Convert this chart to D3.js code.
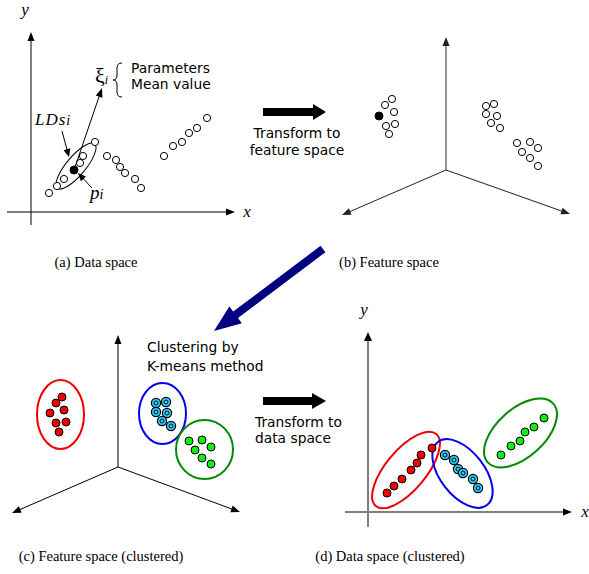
<!DOCTYPE html>
<html><head><meta charset="utf-8">
<script src="https://cdn.jsdelivr.net/npm/d3@7"></script>
<style>body{margin:0;background:#fff;}</style>
</head><body>
<script>
// ---------- data (units: offsets from each panel's origin, y up) ----------
const aCluster1 = [[18,19],[26,26],[33,33],[49,49],[52,56],[64,70]];
const aSelected = [[43,42]];
const aCluster2 = [[76,56],[85,52],[89,45],[94,39],[104,33],[110,24]];
const aCluster3 = [[133,56],[142,66],[151,70],[158,79],[166,84],[176,94]];

const bCluster1 = [[-54,71],[-61,65],[-52,58],[-51,46],[-60,44],[-57,36]];
const bSelected = [[-67,54]];
const bCluster2 = [[40,64],[48,66],[40,56],[51,54],[45,47],[54,42]];
const bCluster3 = [[71,27],[84,28],[92,22],[76,18],[84,12],[92,4]];

const cRed   = [[-56,70],[-62,64],[-54,57],[-68,54],[-52,45],[-62,44],[-59,35]];
const cBlue  = [[38,64],[48,65],[38,55],[49,54],[44,46],[53,41]];
const cGreen = [[71,26],[84,27],[93,20],[77,17],[84,9],[93,3]];

const dRed   = [[19,19],[26,26],[34,33],[43,42],[49,49],[53,57],[64,64]];
const dBlue  = [[77,57],[86,52],[90,43],[95,39],[105,33],[110,24]];
const dGreen = [[133,57],[143,66],[152,71],[157,80],[166,85],[176,94]];

const captions = ["(a) Data space","(b) Feature space","(c) Feature space (clustered)","(d) Data space (clustered)"];
const paramLabels = ["Parameters","Mean value"];
const stepLabels1 = ["Transform to","feature space"];
const stepLabels2 = ["Clustering by","K-means method"];
const stepLabels3 = ["Transform to","data space"];

// ---------- drawing ----------
const W = 589, H = 574;
const svg = d3.select("body").append("svg").attr("width",W).attr("height",H);
const SANS = "'DejaVu Sans', Verdana, sans-serif";
const SERIF = "'Liberation Serif', 'Times New Roman', serif";
const RED="#ee0000", BLUE="#0000ee", GREEN="#008a00", CYAN="#33ccff", LIME="#11ee11";

function mk(ox, oy){
  return {x: d3.scaleLinear().domain([0,100]).range([ox, ox+100]),
          y: d3.scaleLinear().domain([0,100]).range([oy, oy-100])};
}
function seg(x1,y1,x2,y2,stroke="#000",w=1){
  svg.append("line").attr("x1",x1).attr("y1",y1).attr("x2",x2).attr("y2",y2)
    .attr("stroke",stroke).attr("stroke-width",w);
}
function head(tx,ty,fx,fy,len=9,hw=3.5,fill="#000"){
  const a = Math.atan2(ty-fy, tx-fx);
  const bx = tx - len*Math.cos(a), by = ty - len*Math.sin(a);
  const px = -Math.sin(a)*hw, py = Math.cos(a)*hw;
  svg.append("path").attr("d",`M${tx},${ty}L${bx+px},${by+py}L${bx-px},${by-py}Z`).attr("fill",fill);
}
function arrow(x1,y1,x2,y2,stroke="#000",w=1,len=9,hw=3.5,headFill){
  const a = Math.atan2(y2-y1,x2-x1);
  seg(x1,y1,x2-len*0.8*Math.cos(a),y2-len*0.8*Math.sin(a),stroke,w);
  head(x2,y2,x1,y1,len,hw,headFill||stroke);
}
function axis3(s, color){
  const o=[s.x(0),s.y(0)];
  return function(up,left,right){
    arrow(o[0],o[1],s.x(up[0]),s.y(up[1]),color);
    arrow(o[0],o[1],s.x(left[0]),s.y(left[1]),color);
    arrow(o[0],o[1],s.x(right[0]),s.y(right[1]),color);
  };
}
function open(s, pts){
  svg.append("g").selectAll("circle").data(pts).join("circle")
    .attr("cx",d=>s.x(d[0])).attr("cy",d=>s.y(d[1])).attr("r",3.6)
    .attr("fill","#fff").attr("stroke","#000").attr("stroke-width",1);
}
function filled(s, pts, fill, r=4){
  svg.append("g").selectAll("circle").data(pts).join("circle")
    .attr("cx",d=>s.x(d[0])).attr("cy",d=>s.y(d[1])).attr("r",r)
    .attr("fill",fill).attr("stroke","#000").attr("stroke-width",1);
}
function ringed(s, pts){
  const g = svg.append("g");
  g.selectAll("circle.o").data(pts).join("circle").attr("class","o")
    .attr("cx",d=>s.x(d[0])).attr("cy",d=>s.y(d[1])).attr("r",4.6)
    .attr("fill",CYAN).attr("stroke","#000").attr("stroke-width",1.2);
  g.selectAll("circle.i").data(pts).join("circle").attr("class","i")
    .attr("cx",d=>s.x(d[0])).attr("cy",d=>s.y(d[1])).attr("r",2)
    .attr("fill",CYAN).attr("stroke","#000").attr("stroke-width",0.9);
}
function ell(s, cx, cy, rx, ry, rot, color, w=2){
  const X=s.x(cx), Y=s.y(cy);
  svg.append("ellipse").attr("cx",X).attr("cy",Y).attr("rx",rx).attr("ry",ry)
    .attr("transform",`rotate(${rot} ${X} ${Y})`)
    .attr("fill","none").attr("stroke",color).attr("stroke-width",w);
}
function txt(x,y,str,font,size,anchor="start",style="normal",fill="#000"){
  return svg.append("text").attr("x",x).attr("y",y).attr("font-family",font)
    .attr("font-size",size).attr("font-style",style).attr("text-anchor",anchor)
    .attr("fill",fill).text(str);
}

// ---- panel (a) ----
const A = mk(31,212);
arrow(A.x(-24),A.y(0),A.x(204),A.y(0));
arrow(A.x(0),A.y(-13),A.x(0),A.y(180));
txt(247,217,"x",SERIF,17,"middle","italic");
txt(25,15,"y",SERIF,17,"middle","italic");
ell(A,45,46,29,9.5,-50,"#000",1);
open(A,aCluster1); open(A,aCluster2); open(A,aCluster3);
filled(A,aSelected,"#000",4);
arrow(A.x(aSelected[0][0]),A.y(aSelected[0][1]),102,88,"#000",1,9,3.5);
arrow(62,131,69,157,"#000",1,8,3.5);
arrow(92,188,78,173,"#000",1,8,3.5);
{ const t = txt(95,83,"ξ",SERIF,22,"start","normal");
  t.append("tspan").attr("font-size",12).attr("font-style","italic").attr("dy",1).text("i"); }
svg.append("path").attr("d","M122,63 Q117,63 117,68 L117,75 Q117,80 113,80 Q117,80 117,85 L117,92 Q117,97 122,97")
  .attr("fill","none").attr("stroke","#000").attr("stroke-width",1);
txt(131,73,paramLabels[0],SANS,13.8);
txt(131,89,paramLabels[1],SANS,13.8);
{ const t = txt(35,125,"LDs",SERIF,17,"start","italic").attr("letter-spacing",1);
  t.append("tspan").attr("font-size",14).text("i"); }
{ const t = txt(90,199,"p",SERIF,19,"start","italic");
  t.append("tspan").attr("font-size",14).text("i"); }

// ---- arrow a -> b ----
function fatArrow(x1,y1,x2,y2,shaftW,headW,headL,fill){
  const a = Math.atan2(y2-y1,x2-x1), L = Math.hypot(x2-x1,y2-y1);
  const g = svg.append("g").attr("transform",`translate(${x1},${y1}) rotate(${a*180/Math.PI})`);
  g.append("path").attr("d",`M0,${-shaftW/2}L${L-headL},${-shaftW/2}L${L-headL},${-headW/2}L${L},0L${L-headL},${headW/2}L${L-headL},${shaftW/2}L0,${shaftW/2}Z`)
    .attr("fill",fill);
}
fatArrow(263,112,326,112,8,16,13,"#000");
txt(297,138,stepLabels1[0],SANS,13.8,"middle");
txt(297,155,stepLabels1[1],SANS,13.8,"middle");

// ---- panel (b) ----
const B = mk(446,170);
axis3(B,"#222")([0,133],[-104,-45],[124,-44]);
open(B,bCluster1); open(B,bCluster2); open(B,bCluster3);
filled(B,bSelected,"#000",4);

txt(96,267,captions[0],SERIF,14.5,"middle");
txt(389,267,captions[1],SERIF,14.5,"middle");

// ---- blue arrow b -> c ----
fatArrow(323,249,214,331,8,21,27,"#000080");

// ---- panel (c) ----
const C = mk(118,467);
axis3(C,"#000")([0,132],[-106,-46],[122,-45]);
ell(C,-57.5,52.5,23.5,34.5,0,RED);
ell(C,44.5,53.5,23.5,30.5,0,BLUE);
ell(C,86.5,17.5,28.5,29.5,0,GREEN);
filled(C,cRed,RED); ringed(C,cBlue); filled(C,cGreen,LIME);
txt(147,352,stepLabels2[0],SANS,13.8);
txt(147,371,stepLabels2[1],SANS,13.8);

// ---- arrow c -> d ----
fatArrow(263,401,326,401,8,16,14,"#000");
txt(255,427,stepLabels3[0],SANS,13.8);
txt(255,443,stepLabels3[1],SANS,13.8);

// ---- panel (d) ----
const D = mk(368,512);
arrow(D.x(-23),D.y(0),D.x(204),D.y(0),"#000",1);
arrow(D.x(0),D.y(-15),D.x(0),D.y(180),"#808080",2,9,4,"#000");
txt(585,517,"x",SERIF,17,"middle","italic");
txt(364,315,"y",SERIF,17,"middle","italic");
ell(D,38,42,47,20,-50,RED);
ell(D,94.5,38.5,40,22,52,BLUE);
ell(D,152.5,79,44,24,-42,GREEN);
filled(D,dRed,RED); ringed(D,dBlue); filled(D,dGreen,LIME);

txt(101,561,captions[2],SERIF,14.5,"middle");
txt(390,561,captions[3],SERIF,14.5,"middle");
</script>
</body></html>
